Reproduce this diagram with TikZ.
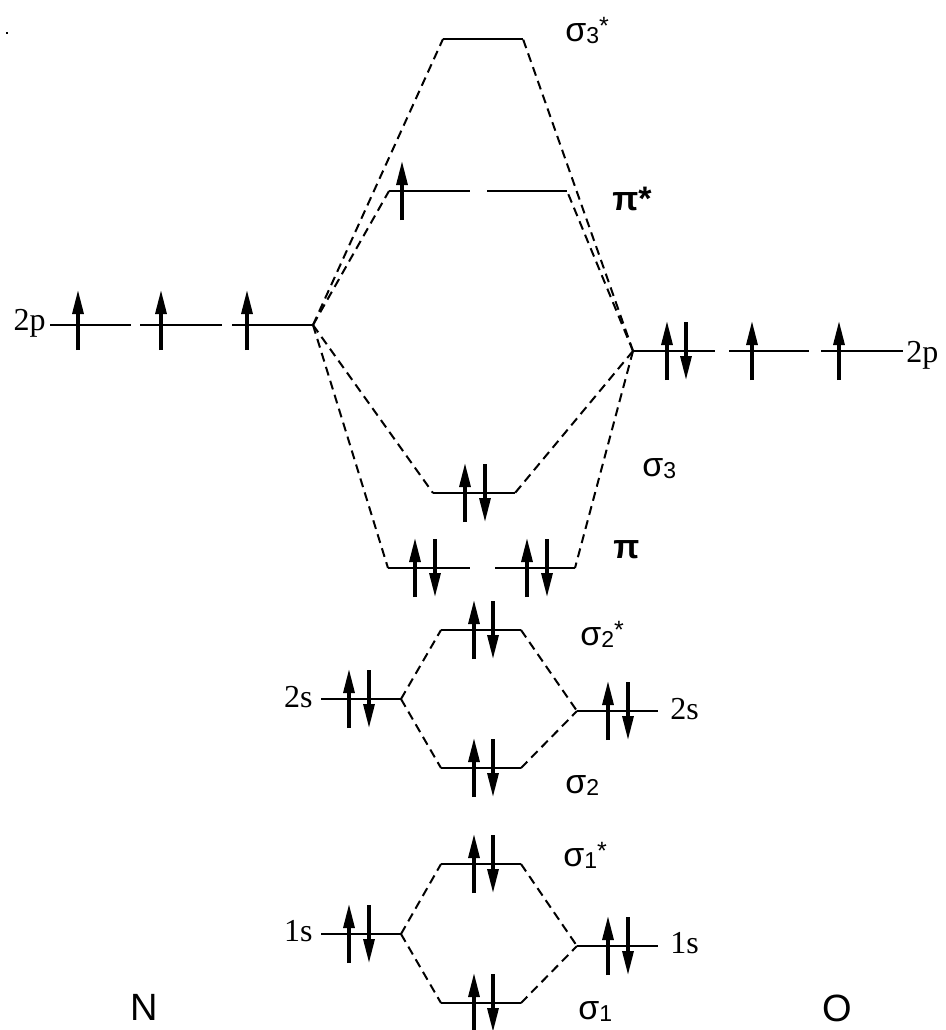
\documentclass[tikz,border=0pt]{standalone}
\usepackage{fontspec}
\setmainfont{Liberation Serif}
\setsansfont{Liberation Sans}
\usetikzlibrary{arrows.meta}
\newcommand\orbsub[1]{\raisebox{-1pt}{\fontsize{11.5}{12}\selectfont #1}}
\newcommand\orbstar{\raisebox{3.5pt}{\fontsize{12.5}{13}\selectfont *}}

\begin{document}
\begin{tikzpicture}[
  x=0.5pt,y=-0.5pt,
  level/.style={line width=1pt},
  link/.style={line width=1pt,dash pattern=on 4.5pt off 2.8pt},
  spin/.style={-{Triangle[length=12pt,width=5.5pt]},line width=1.6pt},
  ao/.style={font=\fontsize{16}{19}\selectfont,inner sep=0pt},
  mo/.style={font=\sffamily\fontsize{17}{20}\selectfont,inner sep=0pt,anchor=base west},
  atom/.style={font=\sffamily\fontsize{19}{22}\selectfont,inner sep=0pt,anchor=base west}
]
\useasboundingbox (0,0) rectangle (946,1030);
\fill (6,32) rectangle (8,34);

% energy levels: name / left x / right x / y
\foreach \name/\xa/\xb/\y in {
    n2pa/50/131/325, n2pb/140/222/325, n2pc/232/313/325,
    o2pa/633/715/351, o2pb/729/809/351, o2pc/821/903/351,
    n2s/321/401/699, o2s/577/658/711,
    n1s/321/401/934, o1s/577/658/946,
    sg3s/443/523/39, pisa/389/470/191, pisb/487/567/191,
    sg3/433/515/493, pia/388/470/568, pib/495/575/568,
    sg2s/441/521/630, sg2/441/521/768,
    sg1s/441/521/864, sg1/441/521/1003}{
  \coordinate (\name-l) at (\xa,\y);
  \coordinate (\name-r) at (\xb,\y);
  \draw[level] (\name-l) -- (\name-r);
}

% correlation lines
\draw[link] (n2pc-r) -- (sg3s-l);
\draw[link] (n2pc-r) -- (pisa-l);
\draw[link] (n2pc-r) -- (sg3-l);
\draw[link] (n2pc-r) -- (pia-l);
\draw[link] (o2pa-l) -- (sg3s-r);
\draw[link] (o2pa-l) -- (pisb-r);
\draw[link] (o2pa-l) -- (sg3-r);
\draw[link] (o2pa-l) -- (pib-r);
\draw[link] (n2s-r) -- (sg2s-l);
\draw[link] (n2s-r) -- (sg2-l);
\draw[link] (sg2s-r) -- (o2s-l);
\draw[link] (sg2-r) -- (o2s-l);
\draw[link] (n1s-r) -- (sg1s-l);
\draw[link] (n1s-r) -- (sg1-l);
\draw[link] (sg1s-r) -- (o1s-l);
\draw[link] (sg1-r) -- (o1s-l);

% electrons
\foreach \x in {78,161,247}
  \draw[spin] (\x,350) -- (\x,290);
\foreach \x/\y in {667/351, 752/351, 839/351, 402/191,
    349/699, 608/711, 349/934, 608/946,
    465/493, 415/568, 527/568,
    474/630, 474/768, 474/864, 474/1003}
  \draw[spin] (\x,\y+29) -- (\x,\y-30);
\foreach \x/\y in {686/351,
    369/699, 628/711, 369/934, 628/946,
    485/493, 435/568, 547/568,
    493/630, 493/768, 493/864, 493/1003}
  \draw[spin] (\x,\y-29) -- (\x,\y+29);

% atomic orbital labels
\node[ao,anchor=base east] (l2pn) at (46,330) {2p};
\node[ao,anchor=base west] (l2po) at (906,362) {2p};
\node[ao,anchor=base east] (l2sn) at (313,707) {2s};
\node[ao,anchor=base west] (l2so) at (670,719) {2s};
\node[ao,anchor=base east] (l1sn) at (313,941) {1s};
\node[ao,anchor=base west] (l1so) at (670,953) {1s};

% molecular orbital labels
\node[mo] (lsg3s) at (565,41) {σ\orbsub{3}\orbstar};
\node[mo] (lpis) at (612,210) {\bfseries π*};
\node[mo] (lsg3) at (642,476) {σ\orbsub{3}};
\node[mo] (lpi) at (613,558) {\bfseries π};
\node[mo] (lsg2s) at (580,645) {σ\orbsub{2}\orbstar};
\node[mo] (lsg2) at (565,793) {σ\orbsub{2}};
\node[mo] (lsg1s) at (563,866) {σ\orbsub{1}\orbstar};
\node[mo] (lsg1) at (578,1019) {σ\orbsub{1}};

% atoms
\node[atom] (natom) at (130,1020) {N};
\node[atom] (oatom) at (822,1021) {O};
\end{tikzpicture}
\end{document}
